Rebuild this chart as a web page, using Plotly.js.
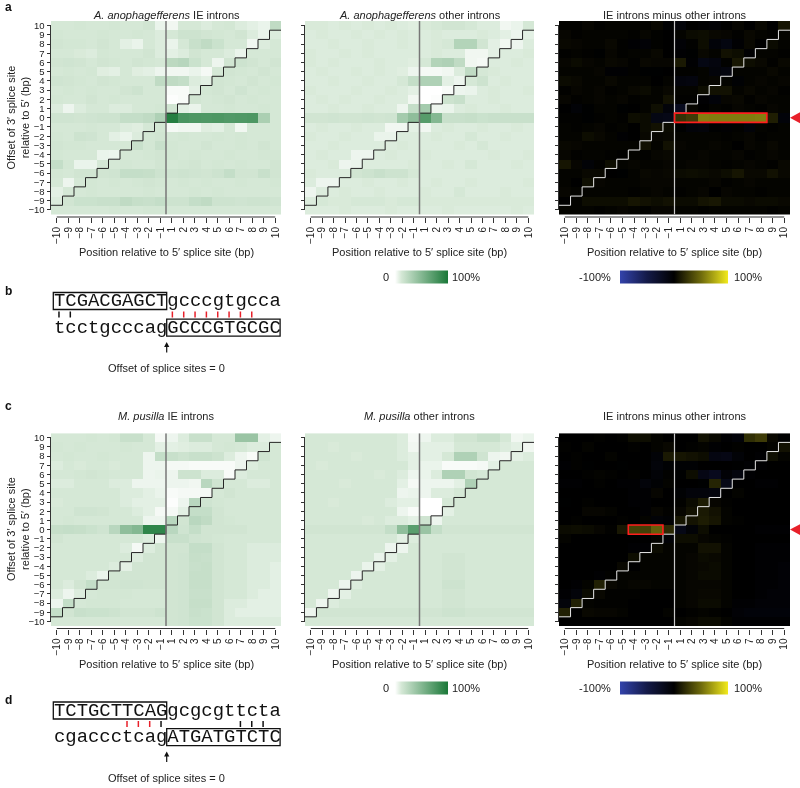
<!DOCTYPE html>
<html><head><meta charset="utf-8">
<script src="https://cdn.plot.ly/plotly-3.0.1.min.js"></script>
<style>html,body{margin:0;padding:0;background:#fff}#chart{width:800px;height:788px}#chart svg{will-change:transform}</style>
</head><body><div id="chart"></div>
<script>
const W = 800, H = 788;
const FONT = 'Liberation Sans, Arial, Helvetica, sans-serif';
const MONO = 'Liberation Mono, Courier New, monospace';

// Categories
const positions = ['\u221210','\u22129','\u22128','\u22127','\u22126','\u22125','\u22124','\u22123','\u22122','\u22121','1','2','3','4','5','6','7','8','9','10'];
const offsets = [10,9,8,7,6,5,4,3,2,1,0,-1,-2,-3,-4,-5,-6,-7,-8,-9,-10];
const offsetLabels = ['10','9','8','7','6','5','4','3','2','1','0','\u22121','\u22122','\u22123','\u22124','\u22125','\u22126','\u22127','\u22128','\u22129','\u221210'];

// Percent of introns (rows: offset 10 .. -10, columns: positions -10..-1, 1..10)
const aIE = [
 [12,12,13,12,12,13,12,12,14, 6,  4,12,12,10,12,13,10, 8, 6,22],
 [13,12,12,12,13,12,12,13,12,10, 12,16,16,14,13,12,14,10, 6,10],
 [14,13,13,12,14,12, 8, 6,12,10,  6,12,18,22,17,12,12, 4,10,12],
 [12,12,11,10,13,12,12,12,14,10,  8,10,14,12,12,10, 6,12,12,12],
 [14,15,14,12,14,13,12,14,13,12, 24,26,17,12, 5,14,16,14,12,14],
 [12,13,12,13, 9, 8,12, 9, 8, 5,  4, 4, 6, 3,12,14,13,12,14,12],
 [15,14,13,12,14,13,12,12,12,22, 22,20,10, 8,14,13,12,14,12,13],
 [12,13,12,13,12,12,14,16,12,12,  2, 2, 8,13,14,12,15,12,13,12],
 [13,12,12,14,12,13,12,12,12,12,  1, 2,14,12,13,14,12,13,12,12],
 [10, 5,10,12,12,10,10,12,12,13, 14, 8, 6,12,12,13,12,12,13,12],
 [15,15,14,15,16,16,20,20,22,30, 95,78,76,75,76,74,75,76,32,12],
 [12,12,12,13,12,12,10, 9,12,13,  3, 4, 4, 9, 8,12, 4,12,12,12],
 [13,12,16,15,12, 8, 6,10,13,14, 12,13,12,12,13,12,13,12,12,12],
 [14,13,13,12,12,12,12,18,13,18, 13,12,12,14,12,12,13,12,14,12],
 [13,12,12,12, 6, 5,12,12,13,14, 13,12,13,12,12,13,12,12,13,13],
 [20,13, 6, 6,12,12,13,12,12,14, 12,13,14,12,13,12,13,12,12,14],
 [13,12,14,14,14,15,20,20,19,16, 15,16,15,14,16,20,14,14,18,14],
 [12, 5,12,13,12,13,12,13,14,13, 12,13,12,13,12,12,13,12,12,13],
 [ 8,12,12,13,12,12,12,12,13,12, 12,12,13,12,13,12,12,12,12,12],
 [10,14,17,17,18,18,22,19,18,20, 16,16,20,22,16,16,15,16,16,15],
 [12,12,12,12,12,13,12,12,13,13, 12,12,12,12,12,12,12,12,12,12]
];
const aOther = [
 [11,11,10,11,10,11,10,11,10, 9, 11,12,14,14,12,10,10, 4, 6,12],
 [10,11,10,10,11,10,11,10,11,10, 10,11,10,10,10,11,10, 8, 5, 8],
 [10,10,11,10,10,11,10,10,11,10, 10,11,12,28,28,14, 8, 4, 5,10],
 [11,10,10,11,10,11,10,10,10,10, 10,11,10,10, 4, 4, 8,10,10,11],
 [11,10,11,10,10,10,11,10,10, 9, 12,28,30,22, 4, 3,10,10,11,10],
 [10,11,10,10,11,10,11,10, 9, 5,  3, 3, 4,10,22,12,11,10,10,10],
 [10,10,11,10,10,11,10,10,12,20, 30,30, 8, 5,12,16,10,11,10,10],
 [11,10,10,10,11,10,10,11,10, 8,  0, 0, 2, 5, 6,10,11,10,10,11],
 [10,11,10,11,10,10,11,10,10, 4,  0, 1,16,18,10,10,11,10,10,10],
 [10,10,11,10,10,11,10,10, 5,20, 35, 5, 6,10,11,10,10,11,10,10],
 [14,14,15,14,14,15,14,15,35,45, 72,50,18,18,19,17,18,18,18,18],
 [10,11,10,10,11,10,10, 4, 4, 8,  4,10,11,10,10,11,10,10,11,10],
 [11,10,10,11,10,10, 6, 6,10,10, 10,11,10,10,12,10,10,11,10,10],
 [10,10,11,10,10,10,10,10,11,10, 10,10,10,11,10,12,10,10,10,10],
 [10,11,10,10, 5, 5,10,11,10,10, 11,10,10,10,10,10,11,10,10,11],
 [10,10,11, 5, 6,10,10,10,10,11, 10,10,11,10,12,10,10,10,11,10],
 [11,10,10,10,14,16,18,16,16,12, 10,10,10,10,10,10,10,10,10,10],
 [10, 5, 5,10,10,11,10,10,11,10, 10,11,10,10,11,10,10,10,10,11],
 [ 5,10,10,11,10,10,11,10,10,10, 11,10,10,12,10,10,10,11,10,10],
 [10,12,11,11,12,12,12,11,12,12, 11,11,11,11,11,11,11,11,11,11],
 [10,10,10,11,10,10,10,11,10,10, 10,10,11,10,10,10,10,10,11,10]
];
const cIE = [
 [12,12,12,13,12,13,18,18,12, 3,  5,10,18,18,12,12,40,40, 8, 5],
 [13,12,13,12,12,12,13,12,12, 8,  8, 9,10,10,12,13,12,10,10,12],
 [12,13,12,12,13,12,12,12, 5,20, 18,16,18,18,16,10, 5, 2,15,12],
 [10,12,11,12,12,11,12,12, 5, 5,  3, 3, 2, 2, 2, 2, 5,10,12,12],
 [12,12,13,14,13,12,12,12, 5, 6,  5,16,16,10,10, 2,10,12,12,12],
 [10,10,12,12,12,10,10, 5, 5, 5,  5, 5, 4,25,15,12,12,10,10,12],
 [12,12,12,12,12,12,10,10, 8, 6,  2, 3, 3, 3,12,14,12,12,12,12],
 [11,12,12,12,12,12,10, 8, 8, 8,  1, 5,25,15,13,12,12,12,12,12],
 [12,12,15,15,14,12,12,10, 8, 3,  3, 8,20,20,14,12,12,12,12,12],
 [12,13,12,12,12,12,12,12, 5, 5, 25,14,25,22,14,13,12,12,12,12],
 [19,20,19,17,15,25,45,50,90,90, 25,15,20,14,14,14,14,12,12,12],
 [14,12,12,12,12,12,12,12,10, 5, 18,18,15,14,13,12,12,12,12,12],
 [12,12,12,12,12,12,10, 3,10,14, 14,14,20,20,14,12,12,10,10,10],
 [12,12,12,12,12,12,12,10,14,14, 14,15,19,18,14,12,12,10,10,10],
 [12,12,12,12,12,10, 8,14,14,14, 14,15,18,19,14,12,12,10,10, 8],
 [12,12,12,10, 6,14,14,14,14,14, 14,15,19,19,14,12,12,10,10, 8],
 [12,10,14,20,14,14,15,15,14,14, 14,15,19,19,14,12,12,10,10, 8],
 [10, 5,10,12,13,13,13,12,12,12, 14,15,18,18,14,12,12,10, 8, 8],
 [ 5,20,12,13,13,13,12,12,12,12, 14,15,19,19,14,10,10, 8, 8, 8],
 [20,14,18,17,17,16,14,14,14,16, 14,15,18,17,14,10, 8, 8, 8, 8],
 [12,12,12,12,12,12,12,12,12,12, 14,15,17,17,14,10,10,10,10,10]
];
const cOther = [
 [12,12,12,12,12,12,12,12,10, 3,  5,10,10,14,14,18,18,12, 4, 6],
 [12,12,11,12,12,12,12,12,10, 4,  8, 8, 8,12,12,12,12,10, 8, 4],
 [12,12,12,12,11,12,12,12,10, 8,  8, 8,12,30,30,15, 5, 4, 8,10],
 [12,11,12,12,12,12,12,12,12, 8,  6, 6, 2, 2, 2, 3, 8,12,12,12],
 [12,12,12,12,12,12,11,12,10, 5,  6,10,30,30,14,12,12,12,12,12],
 [12,12,12,11,12,12,12,12, 8, 3,  5, 5, 5, 8,30,12,12,12,12,12],
 [12,12,12,12,12,12,12,12, 5, 6,  5,10,10,12,12,12,12,12,12,12],
 [12,12,11,12,12,12,12,10, 8, 8,  0, 0,12,12,12,12,12,12,12,12],
 [12,12,12,12,12,12,12,12, 5, 2,  0, 0, 8,12,12,12,12,12,12,12],
 [12,12,12,12,12,11,12,10,10, 8, 15, 5,12,12,12,12,12,12,12,12],
 [14,14,14,14,14,14,14,20,45,70, 40,20,14,14,14,14,14,14,14,14],
 [12,12,12,12,12,12,12,12, 8,10, 12,12,12,12,12,12,12,12,12,12],
 [12,12,12,12,12,12,12, 5, 5,12, 12,12,12,12,12,12,12,12,12,12],
 [12,12,12,12,12,12, 6, 8,12,12, 12,12,14,14,12,12,12,12,12,12],
 [12,12,12,12,12, 6, 8,12,12,12, 12,12,14,14,12,12,12,12,12,12],
 [12,12,12,12, 5,12,12,12,12,12, 12,12,14,14,12,12,12,12,12,12],
 [12,12,12, 5,10,12,12,12,12,12, 12,12,16,16,12,12,12,12,12,12],
 [12,12, 5, 8,12,12,12,12,12,12, 12,12,14,14,12,12,12,12,12,12],
 [12, 5,10,12,12,12,12,12,12,12, 12,12,14,14,12,12,12,12,12,12],
 [ 5,14,14,14,14,14,14,14,14,14, 14,14,16,16,14,14,14,14,14,14],
 [12,12,12,12,12,12,12,12,12,12, 12,12,12,12,12,12,12,12,12,12]
];

// Highlighted alignments (offset 0)
const highlightA = {from: '1', to: '8', offset: 0};
const highlightC = {from: '\u22124', to: '\u22122', offset: 0};

// Sequences
const seqB = {top: ['TCGACGAGCT','gcccgtgcca'], bottom: ['tcctgcccag','GCCCGTGCGC'], red: [1,2,3,4,5,6,7,8], black: [-10,-9]};
const seqD = {top: ['TCTGCTTCAG','gcgcgttcta'], bottom: ['cgaccctcag','ATGATGTCTC'], red: [-4,-3,-2], black: [-1,7,8,9]};

const greenScale = [[0,'#ffffff'],[0.12,'#d5e8d6'],[1,'#1a7838']];
const divScale = [[0,'#3343ab'],[0.25,'#141a48'],[0.5,'#000000'],[0.75,'#6e6a0c'],[1,'#f2ea1c']];

const diff = (A,B) => A.map((row,i) => row.map((v,j) => v - B[i][j]));
const aDiff = diff(aIE, aOther), cDiff = diff(cIE, cOther);

const px = x => x / W;
const py = y => 1 - y / H;
const idx = positions.map((_, i) => i);
const yAsc = offsets.slice().reverse();
const rev = M => M.slice().reverse();

const colsPx = [[51,281],[305,534],[559,790]];
const rowsPx = [[21,214.5],[433.2,626]];
const titleY = [14.5, 415.5];

const panels = [
 {r:0,c:0,z:aIE,kind:'g',title:'<i>A. anophagefferens</i> IE introns'},
 {r:0,c:1,z:aOther,kind:'g',title:'<i>A. anophagefferens</i> other introns',scale:true},
 {r:0,c:2,z:aDiff,kind:'d',title:'IE introns minus other introns',scale:true,hl:highlightA},
 {r:1,c:0,z:cIE,kind:'g',title:'<i>M. pusilla</i> IE introns'},
 {r:1,c:1,z:cOther,kind:'g',title:'<i>M. pusilla</i> other introns',scale:true},
 {r:1,c:2,z:cDiff,kind:'d',title:'IE introns minus other introns',scale:true,hl:highlightC}
];

const data = [], shapes = [], annotations = [];
const note = o => annotations.push(Object.assign({xref:'paper', yref:'paper', showarrow:false}, o));
const layout = {
  width: W, height: H, margin: {l:0,r:0,t:0,b:0,autoexpand:false},
  paper_bgcolor:'#fff', plot_bgcolor:'#fff', showlegend:false,
  font: {family: FONT, size: 11, color: '#222'},
  shapes, annotations
};

const stairX = idx.map(i => i - 0.5).concat([idx.length - 0.5]);
const stairY = idx.map(i => yAsc[0] + 0.5 + i).concat([yAsc[yAsc.length-1] - 0.5]);

panels.forEach((p, k) => {
  const n = k + 1;
  const xs = n === 1 ? 'x' : 'x' + n, ys = n === 1 ? 'y' : 'y' + n;
  const [l, r] = colsPx[p.c], [t, b] = rowsPx[p.r];
  const isG = p.kind === 'g';
  const barY = rowsPx[p.r][1] + 62.2;
  const tr = {
    type:'heatmap', z: rev(p.z), x: idx, y: yAsc, xaxis: xs, yaxis: ys,
    colorscale: isG ? greenScale : divScale,
    zmin: isG ? 0 : -100, zmax: 100, hoverinfo:'skip', showscale: !!p.scale
  };
  if (p.scale) {
    tr.colorbar = {
      orientation:'h', x: px(isG ? 421.5 : 674), xanchor:'center',
      y: py(barY), yanchor:'middle', len: isG ? 53 : 108, lenmode:'pixels',
      thickness: 13, thicknessmode:'pixels', xpad:0, ypad:0, outlinewidth:0,
      showticklabels:false, ticks:'', title:{text:''}
    };
    if (isG) {
      note({text:'0', x:px(386), y:py(barY), xanchor:'center', yanchor:'middle', font:{size:11}});
      note({text:'100%', x:px(450), y:py(barY), xanchor:'left', yanchor:'middle', font:{size:11}});
    } else {
      note({text:'-100%', x:px(613), y:py(barY), xanchor:'right', yanchor:'middle', font:{size:11}});
      note({text:'100%', x:px(731.5), y:py(barY), xanchor:'left', yanchor:'middle', font:{size:11}});
    }
  }
  data.push(tr);
  data.push({type:'scatter', mode:'lines', x: stairX, y: stairY, xaxis: xs, yaxis: ys,
    line:{shape:'hv', color: isG ? '#262626' : '#e6e6e6', width:1}, hoverinfo:'skip'});

  const xPos = py(b + 2.5);
  const yPos = px(l - 0.5);
  layout['xaxis' + (n === 1 ? '' : n)] = {
    domain:[px(l), px(r)], range:[-0.5, idx.length - 0.5], anchor:'free', position: xPos,
    tickmode:'array', tickvals: idx, ticktext: positions, tickangle:-90,
    ticks:'outside', ticklen:5, tickwidth:1, tickcolor:'#333',
    tickfont:{family:FONT, size:10, color:'#222'}, showgrid:false, zeroline:false, showline:false, fixedrange:true
  };
  layout['yaxis' + (n === 1 ? '' : n)] = {
    domain:[py(b), py(t)], range:[-10.5, 10.5], anchor:'free', position: yPos,
    tickmode:'array', tickvals: offsets, ticktext: offsetLabels, showticklabels: p.c === 0,
    ticks:'outside', ticklen:4, tickwidth:1, tickcolor:'#333',
    tickfont:{family:FONT, size:9.5, color:'#222'}, showgrid:false, zeroline:false, showline:false, fixedrange:true
  };
  // axis lines from first to last tick
  shapes.push({type:'line', xref: xs, yref:'paper', x0: idx[0], x1: idx[idx.length-1], y0: xPos, y1: xPos, line:{color:'#333', width:1}});
  shapes.push({type:'line', xref:'paper', yref: ys, x0: yPos, x1: yPos, y0: offsets[offsets.length-1], y1: offsets[0], line:{color:'#333', width:1}});
  // 5' splice site line
  const mid = positions.indexOf('1') - 0.5;
  shapes.push({type:'line', xref: xs, yref: ys, x0: mid, x1: mid, y0: -10.5, y1: 10.5, layer:'above',
    line:{color: isG ? '#777' : '#c8c8c8', width: isG ? 1.5 : 1.2}});
  if (p.hl) {
    shapes.push({type:'rect', xref: xs, yref: ys, layer:'above',
      x0: positions.indexOf(p.hl.from) - 0.5, x1: positions.indexOf(p.hl.to) + 0.5,
      y0: p.hl.offset - 0.5, y1: p.hl.offset + 0.5, line:{color:'#ff1e1e', width:1.6}});
    const cy = t + (10 - p.hl.offset + 0.5) * (b - t) / 21;
    shapes.push({type:'path', xref:'paper', yref:'paper', layer:'above',
      path:`M ${px(790)} ${py(cy)} L ${px(801)} ${py(cy-6)} L ${px(801)} ${py(cy+6)} Z`,
      fillcolor:'#e8202a', line:{width:0}});
  }
  note({text: p.title, x: px((l + r) / 2), y: py(titleY[p.r]), xanchor:'center', yanchor:'middle',
    font:{size:11, color:'#222'}});
  note({text:'Position relative to 5\u2032 splice site (bp)', x: px((l + r) / 2), y: py(b + 37.5),
    xanchor:'center', yanchor:'middle', font:{size:11, color:'#222'}});
});

// y axis titles
[118, 529.6].forEach(cy => {
  note({text:'Offset of 3\u2032 splice site<br>relative to 5\u2032 (bp)', x: px(17.5), y: py(cy),
    xanchor:'center', yanchor:'middle', textangle:-90, font:{size:11, color:'#222'}});
});

// panel letters
[['a',7],['b',291],['c',406.5],['d',699.5]].forEach(([s, y]) => {
  note({text:'<b>' + s + '</b>', x: px(2.5), y: py(y), xanchor:'left', yanchor:'middle', font:{size:12, color:'#111'}});
});

// sequence alignments
const charW = 11.34, seqX0 = 53.3;
function seqBlock(T, s) {
  const B = T + 26.7;
  note({text: s.top.join(''), x: px(seqX0), y: py(T), xanchor:'left', yanchor:'middle',
    borderpad:0, font:{family: MONO, size: charW / 0.6, color:'#111'}});
  note({text: s.bottom.join(''), x: px(seqX0), y: py(B), xanchor:'left', yanchor:'middle',
    borderpad:0, font:{family: MONO, size: charW / 0.6, color:'#111'}});
  const split = seqX0 + s.top[0].length * charW;
  shapes.push({type:'rect', xref:'paper', yref:'paper', x0: px(seqX0), x1: px(split), y0: py(T - 8.5), y1: py(T + 8.5),
    line:{color:'#111', width:1.3}});
  shapes.push({type:'rect', xref:'paper', yref:'paper', x0: px(split), x1: px(split + s.bottom[1].length * charW),
    y0: py(B - 8.5), y1: py(B + 8.5), line:{color:'#111', width:1.3}});
  const cx = pos => seqX0 + ((pos < 0 ? pos + 10 : pos + 9) + 0.5) * charW;
  const tick = (pos, col) => shapes.push({type:'line', xref:'paper', yref:'paper', x0: px(cx(pos)), x1: px(cx(pos)),
    y0: py(T + 10.5), y1: py(T + 16.5), line:{color: col, width:1.5}});
  s.red.forEach(p => tick(p, '#e8202a'));
  s.black.forEach(p => tick(p, '#111'));
  shapes.push({type:'line', xref:'paper', yref:'paper', x0: px(split), x1: px(split), y0: py(T + 44), y1: py(T + 51.5),
    line:{color:'#111', width:1.2}});
  shapes.push({type:'path', xref:'paper', yref:'paper',
    path:`M ${px(split)} ${py(T + 41)} L ${px(split - 2.6)} ${py(T + 46)} L ${px(split + 2.6)} ${py(T + 46)} Z`,
    fillcolor:'#111', line:{width:0}});
  note({text:'Offset of splice sites = 0', x: px(166), y: py(T + 67), xanchor:'center', yanchor:'middle',
    font:{size:11, color:'#222'}});
}
seqBlock(301, seqB);
seqBlock(710.5, seqD);

Plotly.newPlot('chart', data, layout, {displayModeBar:false, staticPlot:true});
</script>
</body></html>
